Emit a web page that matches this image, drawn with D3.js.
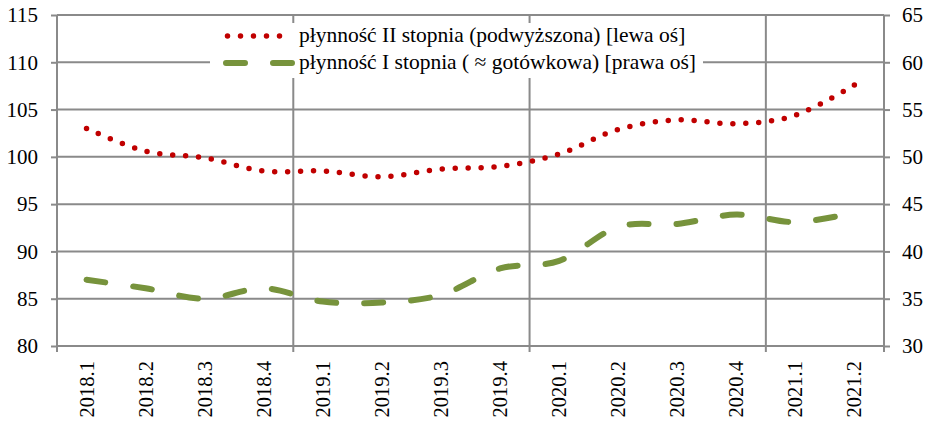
<html><head><meta charset="utf-8"><script src="https://cdn.jsdelivr.net/npm/d3@7"></script></head>
<body style="margin:0">
<svg id="chart" width="930" height="422"></svg>
<script>
// ---- data ----
const categories = ["2018.1","2018.2","2018.3","2018.4","2019.1","2019.2","2019.3","2019.4",
                    "2020.1","2020.2","2020.3","2020.4","2021.1","2021.2"];
const liquidityII = [103.0, 100.6, 99.9, 98.5, 98.5, 97.9, 98.7, 99.0, 100.3, 102.9, 103.9, 103.5, 104.4, 107.6];
const liquidityI  = [37.0, 36.1, 35.0, 36.1, 34.7, 34.6, 35.4, 38.2, 39.0, 42.6, 42.9, 43.9, 43.1, 44.1];
const leftTicks  = [80, 85, 90, 95, 100, 105, 110, 115];
const rightTicks = [30, 35, 40, 45, 50, 55, 60, 65];
const seriesNames = ["płynność II stopnia (podwyższona) [lewa oś]",
                     "płynność I stopnia ( \u2248 gotówkowa) [prawa oś]"];

// ---- layout ----
const svg = d3.select("#chart");
const L = 57, R = 884, T = 15, B = 346;
const gridColor = "#8a8a8a";
const red = "#C00000", green = "#77933C";
const fontName = "Liberation Serif";
function serif(sel, size) {
  sel.attr("font-size", size).style("font-family", d => `'${fontName}', monospace`);
}

const x = d3.scaleBand().domain(categories).range([L, R]).paddingInner(0).paddingOuter(0);
const yL = d3.scaleLinear().domain([80, 115]).range([B, T]);
const yR = d3.scaleLinear().domain([30, 65]).range([B, T]);

// horizontal gridlines
svg.append("g").selectAll("line").data(leftTicks).join("line")
  .attr("x1", L).attr("x2", R)
  .attr("y1", d => yL(d)).attr("y2", d => yL(d))
  .attr("stroke", gridColor).attr("stroke-width", 2);

// vertical gridlines every 4 categories (year boundaries)
const vIdx = [4, 8, 12];
svg.append("g").selectAll("line").data(vIdx).join("line")
  .attr("x1", i => x(categories[i])).attr("x2", i => x(categories[i]))
  .attr("y1", T).attr("y2", B + 6)
  .attr("stroke", gridColor).attr("stroke-width", 2);

// left axis
const axL = svg.append("g").attr("transform", `translate(${L},0)`)
  .call(d3.axisLeft(yL).tickValues(leftTicks).tickSize(6).tickPadding(13).tickFormat(d3.format("d")));
// right axis
const axR = svg.append("g").attr("transform", `translate(${R},0)`)
  .call(d3.axisRight(yR).tickValues(rightTicks).tickSize(6).tickPadding(12).tickFormat(d3.format("d")));
[axL, axR].forEach(a => {
  a.attr("font-family", null).attr("font-size", null);
  a.select(".domain").attr("stroke", gridColor).attr("stroke-width", 2)
    .attr("d", `M0,${T}V${B}`);
  a.selectAll(".tick line").attr("stroke", gridColor).attr("stroke-width", 2);
  a.selectAll("text").attr("fill", "#000").call(serif, 21);
});

// bottom axis line + ticks at start/end
svg.append("line").attr("x1", L).attr("x2", R).attr("y1", B).attr("y2", B)
  .attr("stroke", gridColor).attr("stroke-width", 2);
svg.append("g").selectAll("line").data([L, R]).join("line")
  .attr("x1", d => d).attr("x2", d => d).attr("y1", B).attr("y2", B + 6)
  .attr("stroke", gridColor).attr("stroke-width", 2);

// category labels (rotated)
svg.append("g")
  .selectAll("text").data(categories).join("text")
  .attr("transform", d => `translate(${x(d) + x.bandwidth() / 2 + 7},${B + 15}) rotate(-90)`)
  .attr("text-anchor", "end")
  .attr("fill", "#000")
  .call(serif, 20.5)
  .text(d => d);

// lines
const cx = (d, i) => x(categories[i]) + x.bandwidth() / 2;
const lineII = d3.line().x(cx).y(d => yL(d)).curve(d3.curveCardinal.tension(0));
const lineI = d3.line().x(cx).y(d => yR(d)).curve(d3.curveCardinal.tension(0));

svg.append("path").datum(liquidityI).attr("d", lineI)
  .attr("fill", "none").attr("stroke", green).attr("stroke-width", 6)
  .attr("stroke-linecap", "round").attr("stroke-dasharray", "19,28");

const pII = svg.append("path").datum(liquidityII).attr("d", lineII)
  .attr("fill", "none").attr("stroke", red).attr("stroke-width", 5.5)
  .attr("stroke-linecap", "round");
const lenII = pII.node().getTotalLength();
const nDots = Math.round(lenII / 13);
pII.attr("stroke-dasharray", `0,${(lenII / nDots) * 0.9995}`);

// legend
const lg = svg.append("g");
lg.append("rect").attr("x", 210).attr("y", 23).attr("width", 493).attr("height", 55).attr("fill", "#fff");
lg.append("line").attr("x1", 227.5).attr("x2", 280).attr("y1", 36).attr("y2", 36)
  .attr("stroke", red).attr("stroke-width", 5.5).attr("stroke-linecap", "round").attr("stroke-dasharray", "0,13");
lg.append("line").attr("x1", 226).attr("x2", 292).attr("y1", 63).attr("y2", 63)
  .attr("stroke", green).attr("stroke-width", 6).attr("stroke-linecap", "round").attr("stroke-dasharray", "19,28");
lg.selectAll("text").data(seriesNames).join("text")
  .attr("x", 299).attr("y", (d, i) => 42 + i * 27)
  .attr("fill", "#000")
  .call(serif, 21.5)
  .text(d => d);
</script>
</body>
</html>
